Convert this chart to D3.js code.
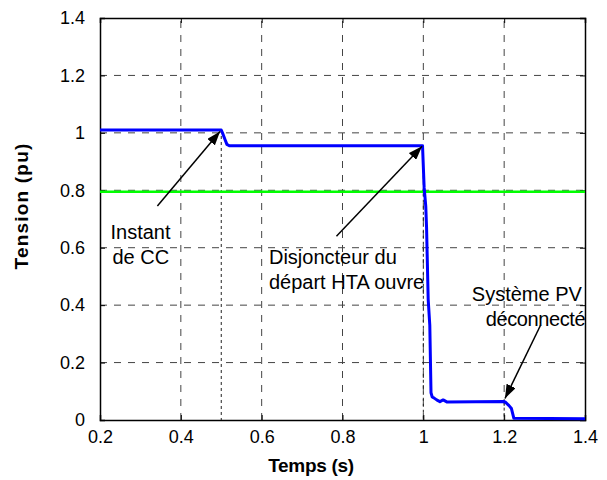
<!DOCTYPE html>
<html>
<head>
<meta charset="utf-8">
<script src="https://cdn.jsdelivr.net/npm/d3@7"></script>
<style>
  body { margin: 0; background: #fff; }
  svg { display: block; font-family: "Liberation Sans", Arial, sans-serif; }
</style>
</head>
<body>
<svg id="chart" width="607" height="480"></svg>
<script>
// ---- data ----
const timeValues = [0.2, 0.5, 0.503, 0.509, 0.514, 0.52, 0.998, 1.002, 1.006, 1.008, 1.012, 1.016, 1.019, 1.022, 1.026, 1.033, 1.041, 1.049, 1.058, 1.2, 1.203, 1.212, 1.218, 1.224, 1.4];
const voltageValues = [1.01, 1.01, 1.0, 0.978, 0.96, 0.955, 0.955, 0.81, 0.745, 0.67, 0.42, 0.33, 0.095, 0.08, 0.077, 0.07, 0.064, 0.07, 0.063, 0.064, 0.062, 0.05, 0.04, 0.006, 0.004];
const thresholdValue = 0.795;
const xTicks = [0.2, 0.4, 0.6, 0.8, 1, 1.2, 1.4];
const yTicks = [0, 0.2, 0.4, 0.6, 0.8, 1, 1.2, 1.4];
const eventTimes = [0.5, 1.0, 1.2];
const eventLevels = [1.01, 0.955, 0.064];
const xLabel = "Temps (s)";
const yLabel = "Tension (pu)";
const annotationLines = [
  ["Instant", "de CC"],
  ["Disjoncteur du", "départ HTA ouvre"],
  ["Système PV", "déconnecté"]
];
// annotation anchors in data units: text position, arrow start, arrow tip
const annotationText = [[0.226, 0.63], [0.618, 0.545], [1.12, 0.415]];
const arrowFrom = [[0.342, 0.745], [0.785, 0.64], [1.29, 0.33]];
const arrowTo = [[0.497, 1.005], [0.997, 0.953], [1.202, 0.075]];

// ---- layout ----
const svg = d3.select("#chart");
const margin = {left: 100, right: 22, top: 18, bottom: 60};
const W = 607, H = 480;
const x = d3.scaleLinear().domain([0.2, 1.4]).range([margin.left, W - margin.right]);
const y = d3.scaleLinear().domain([0, 1.4]).range([H - margin.bottom, margin.top]);
const x0 = x.range()[0], x1 = x.range()[1], y0 = y.range()[0], y1 = y.range()[1];

// grid
const grid = svg.append("g").attr("stroke", "#444").attr("stroke-width", 1).attr("stroke-dasharray", "7,7");
grid.selectAll("line.gx").data(xTicks.slice(1, -1)).join("line")
  .attr("x1", d => x(d)).attr("x2", d => x(d)).attr("y1", y0).attr("y2", y1);
grid.selectAll("line.gy").data(yTicks.slice(1, -1)).join("line")
  .attr("x1", x0).attr("x2", x1).attr("y1", d => y(d)).attr("y2", d => y(d));

// event marker lines (fine dotted)
svg.append("g").attr("stroke", "#222").attr("stroke-width", 1).attr("stroke-dasharray", "3,3")
  .selectAll("line").data(eventTimes).join("line")
  .attr("x1", d => x(d)).attr("x2", d => x(d))
  .attr("y1", (d, i) => y(eventLevels[i])).attr("y2", y0);

// axes
const axB = svg.append("g").attr("transform", `translate(0,${y0})`)
  .call(d3.axisBottom(x).tickValues(xTicks).tickSize(-5).tickPadding(10).tickFormat(d3.format("~g")));
const axL = svg.append("g").attr("transform", `translate(${x0},0)`)
  .call(d3.axisLeft(y).tickValues(yTicks).tickSize(-5).tickPadding(15).tickFormat(d3.format("~g")));
const axT = svg.append("g").attr("transform", `translate(0,${y1})`)
  .call(d3.axisTop(x).tickValues(xTicks).tickSize(-5).tickFormat(""));
const axR = svg.append("g").attr("transform", `translate(${x1},0)`)
  .call(d3.axisRight(y).tickValues(yTicks).tickSize(-5).tickFormat(""));
[axB, axL, axT, axR].forEach(a => {
  a.select(".domain").attr("stroke", "#000").attr("stroke-width", 1.5);
  a.selectAll(".tick line").attr("stroke", "#000");
  a.selectAll("text").attr("font-size", 18).attr("fill", "#000")
    .attr("font-family", "'Liberation Sans', Arial, sans-serif");
});

// threshold line
svg.append("line")
  .attr("x1", x0).attr("x2", x1)
  .attr("y1", y(thresholdValue)).attr("y2", y(thresholdValue))
  .attr("stroke", "#00ff00").attr("stroke-width", 2.5);

// voltage curve
const line = d3.line().x((d, i) => x(timeValues[i])).y(d => y(d));
svg.append("path").datum(voltageValues)
  .attr("d", line).attr("fill", "none")
  .attr("stroke", "#0000ff").attr("stroke-width", 3).attr("stroke-linejoin", "round");

// arrows
svg.append("defs").append("marker")
  .attr("id", "ah").attr("viewBox", "0 0 14 10").attr("refX", 14).attr("refY", 5)
  .attr("markerWidth", 14).attr("markerHeight", 10).attr("markerUnits", "userSpaceOnUse")
  .attr("orient", "auto")
  .append("path").attr("d", "M0,0 L14,5 L0,10 Z").attr("fill", "#000");
svg.append("g").selectAll("line").data(arrowFrom).join("line")
  .attr("x1", d => x(d[0])).attr("y1", d => y(d[1]))
  .attr("x2", (d, i) => x(arrowTo[i][0])).attr("y2", (d, i) => y(arrowTo[i][1]))
  .attr("stroke", "#000").attr("stroke-width", 1.5).attr("marker-end", "url(#ah)");

// annotation text
const secondLineShift = [2, 0, 14];
annotationLines.forEach((lines, i) => {
  const t = svg.append("text")
    .attr("x", x(annotationText[i][0])).attr("y", y(annotationText[i][1]))
    .attr("font-size", 20).attr("fill", "#000");
  lines.forEach((s, j) => {
    const ts = t.append("tspan").attr("x", x(annotationText[i][0]) + (j === 1 ? secondLineShift[i] : 0))
      .attr("dy", j === 0 ? 0 : 25).text(s);
    if (i === 2 && j === 1) ts.attr("letter-spacing", -0.4);
  });
});

// axis titles
svg.append("text").attr("x", 311).attr("y", 472).attr("text-anchor", "middle")
  .attr("font-size", 19).attr("font-weight", "bold").attr("letter-spacing", -0.3).text(xLabel);
svg.append("text").attr("transform", "translate(28,206) rotate(-90)").attr("text-anchor", "middle")
  .attr("font-size", 19).attr("font-weight", "bold").attr("letter-spacing", 1.2).text(yLabel);
</script>
</body>
</html>
